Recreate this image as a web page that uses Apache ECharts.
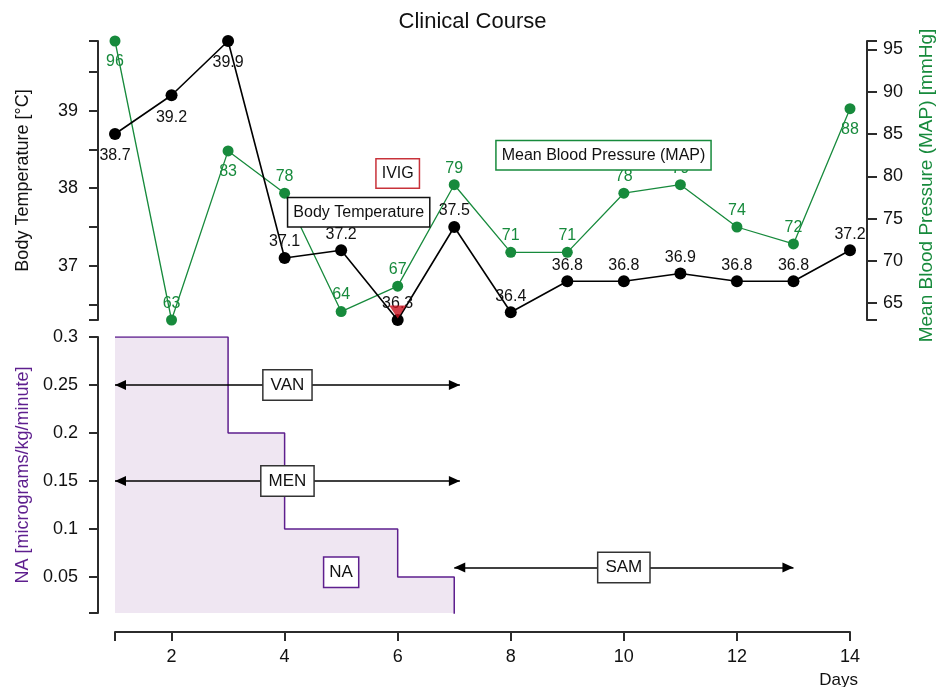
<!DOCTYPE html>
<html>
<head>
<meta charset="utf-8">
<title>Clinical Course</title>
<script src="https://cdn.jsdelivr.net/npm/echarts@6/dist/echarts.min.js"></script>
<style>
  html, body { margin: 0; padding: 0; background: #fff; }
  #chart { width: 945px; height: 687px; }
</style>
</head>
<body>
<div id="chart"></div>
<script>
// data
const days = [1, 2, 3, 4, 5, 6, 7, 8, 9, 10, 11, 12, 13, 14];
const bodyTemp = [38.7, 39.2, 39.9, 37.1, 37.2, 36.3, 37.5, 36.4, 36.8, 36.8, 36.9, 36.8, 36.8, 37.2];
const meanBP = [96, 63, 83, 78, 64, 67, 79, 71, 71, 78, 79, 74, 72, 88];
// noradrenaline dose, step changes
const naDays = [1, 3, 4, 6, 7];
const naRate = [0.3, 0.2, 0.1, 0.05, 0];
// drugs given over a period of days
const drugNames = ['VAN', 'MEN', 'SAM'];
const drugStart = [1, 1, 7];
const drugEnd = [7.1, 7.1, 13];
const drugLevel = [0.25, 0.15, 0.06];
const ivigDay = 6;
// tick labels
const tempLabels = [37, 38, 39];
const mapLabels = [65, 70, 75, 80, 85, 90, 95];
const naLabels = [0.05, 0.1, 0.15, 0.2, 0.25, 0.3];
const dayLabels = [2, 4, 6, 8, 10, 12, 14];

const GREEN = '#178a3c';
const PURPLE = '#5e1f8e';
const AXIS = '#2b2b2b';
const FONT = 'Liberation Sans, Arial, sans-serif';

let chart = echarts.init(document.getElementById('chart'));

function axisBase(extra) {
    return Object.assign({
        type: 'value',
        splitLine: { show: false },
        axisLine: { show: true, lineStyle: { color: AXIS, width: 2 } },
        axisTick: { show: true, length: 9, lineStyle: { color: AXIS, width: 2 } },
        axisLabel: { color: '#111', fontSize: 18, fontFamily: FONT, margin: 18 }
    }, extra);
}

const tempMin = Math.min.apply(null, bodyTemp), tempMax = Math.max.apply(null, bodyTemp);
const mapMin = Math.min.apply(null, meanBP), mapMax = Math.max.apply(null, meanBP);

let boxLabel = function (border, size) {
    return {
        show: true, position: 'inside', color: '#111', fontSize: size || 16, fontFamily: FONT,
        backgroundColor: '#fff', borderColor: border, borderWidth: 1.5, padding: [6, 5]
    };
};

let option = {
    animation: false,
    textStyle: { fontFamily: FONT },
    title: {
        text: 'Clinical Course', left: 'center', top: 6,
        textStyle: { fontSize: 22, fontWeight: 'normal', color: '#111', fontFamily: FONT }
    },
    grid: [
        { left: 115, right: 95, top: 41, height: 279, containLabel: false, outerBoundsMode: 'none' },
        { left: 115, right: 95, top: 337, height: 276, containLabel: false, outerBoundsMode: 'none' }
    ],
    xAxis: [
        axisBase({ gridIndex: 0, min: 1, max: 14, show: false }),
        axisBase({
            gridIndex: 1, min: 1, max: 14, offset: 19,
            axisTick: { show: true, length: 9, lineStyle: { color: AXIS, width: 2 }, customValues: [1].concat(dayLabels) },
            axisLabel: { color: '#111', fontSize: 18, fontFamily: FONT, margin: 16, customValues: dayLabels },
            name: 'Days', nameLocation: 'end', nameGap: 8,
            nameTextStyle: { color: '#111', fontSize: 17, fontFamily: FONT, align: 'right', verticalAlign: 'top', padding: [40, 0, 0, 0] }
        })
    ],
    yAxis: [
        axisBase({
            gridIndex: 0, position: 'left', offset: 17, min: tempMin, max: tempMax,
            axisTick: { show: true, length: 9, lineStyle: { color: AXIS, width: 2 },
                customValues: [tempMin, 36.5, 37, 37.5, 38, 38.5, 39, 39.5, tempMax] },
            axisLabel: { color: '#111', fontSize: 18, fontFamily: FONT, margin: 20, customValues: tempLabels },
            name: 'Body Temperature [°C]', nameLocation: 'middle', nameGap: 66, nameRotate: 90,
            nameTextStyle: { color: '#111', fontSize: 18, fontFamily: FONT }
        }),
        axisBase({
            gridIndex: 0, position: 'right', offset: 17, min: mapMin, max: mapMax,
            axisTick: { show: true, length: 10, lineStyle: { color: AXIS, width: 2 },
                customValues: [mapMin].concat(mapLabels, [mapMax]) },
            axisLabel: { color: '#111', fontSize: 18, fontFamily: FONT, margin: 16, customValues: mapLabels },
            name: 'Mean Blood Pressure (MAP) [mmHg]', nameLocation: 'middle', nameGap: 50, nameRotate: 90,
            nameTextStyle: { color: GREEN, fontSize: 19, fontFamily: FONT, padding: [0, 10, 0, 0] }
        }),
        axisBase({
            gridIndex: 1, position: 'left', offset: 17, min: 0.0125, max: 0.3,
            axisTick: { show: true, length: 9, lineStyle: { color: AXIS, width: 2 },
                customValues: [0.0125].concat(naLabels) },
            axisLabel: { color: '#111', fontSize: 18, fontFamily: FONT, margin: 20, customValues: naLabels },
            name: 'NA [micrograms/kg/minute]', nameLocation: 'middle', nameGap: 66, nameRotate: 90,
            nameTextStyle: { color: PURPLE, fontSize: 18, fontFamily: FONT }
        })
    ],
    series: [
        {
            name: 'NA', type: 'line', xAxisIndex: 1, yAxisIndex: 2,
            step: 'end', symbol: 'none',
            lineStyle: { color: PURPLE, width: 1.5 },
            areaStyle: { color: '#efe6f2', opacity: 1, origin: 'start' },
            data: naDays.map((d, i) => [d, naRate[i]]),
            markLine: {
                silent: true,
                symbol: ['triangle', 'triangle'], symbolSize: [10, 11],
                symbolOffset: [[0, 5.5], [0, 5.5]],
                lineStyle: { color: '#000', width: 1.5, type: 'solid' },
                label: {
                    show: true, position: 'middle', formatter: '{b}', distance: 0,
                    verticalAlign: 'middle', align: 'center',
                    color: '#111', fontSize: 17, fontFamily: FONT,
                    backgroundColor: '#fff', borderColor: '#333', borderWidth: 1.5, padding: [6, 7]
                },
                data: drugNames.map((n, i) => [
                    { name: n, coord: [drugStart[i], drugLevel[i]] },
                    { coord: [drugEnd[i], drugLevel[i]] }
                ])
            },
            markPoint: {
                symbol: 'rect', symbolSize: 0,
                label: boxLabel(PURPLE, 17),
                data: [{ name: 'NA', coord: [5, 0.055], value: 'NA' }]
            },
            z: 2
        },
        {
            name: 'MAP', type: 'line', xAxisIndex: 0, yAxisIndex: 1, clip: false,
            symbol: 'circle', symbolSize: 11,
            itemStyle: { color: GREEN },
            lineStyle: { color: GREEN, width: 1.3 },
            label: { show: true, color: GREEN, fontSize: 16, fontFamily: FONT },
            data: days.map((d, i) => {
                let below = (i === 0 || i === 2 || i === 13);
                return {
                    value: [d, meanBP[i]],
                    label: { position: below ? 'bottom' : 'top', distance: below ? 7 : 3 }
                };
            }),
            z: 3
        },
        {
            name: 'Body Temperature', type: 'line', xAxisIndex: 0, yAxisIndex: 0, clip: false,
            symbol: 'circle', symbolSize: 12,
            itemStyle: { color: '#000' },
            lineStyle: { color: '#000', width: 1.6 },
            label: { show: true, color: '#111', fontSize: 16, fontFamily: FONT },
            data: days.map((d, i) => ({
                value: [d, bodyTemp[i]],
                label: { position: i < 3 ? 'bottom' : 'top', distance: i < 3 ? 8 : 2 }
            })),
            markPoint: {
                symbol: 'rect', symbolSize: 0,
                data: [
                    { name: 'bt', coord: [5.31, 37.69], value: 'Body Temperature', label: boxLabel('#111') },
                    { name: 'ivig', coord: [ivigDay, 38.19], value: 'IVIG', label: boxLabel('#c8323a') }
                ]
            },
            z: 4
        },
        {
            name: 'MAP box', type: 'scatter', xAxisIndex: 0, yAxisIndex: 1,
            symbolSize: 0, data: [],
            markPoint: {
                symbol: 'rect', symbolSize: 0,
                data: [{ name: 'map', coord: [9.64, 82.5], value: 'Mean Blood Pressure (MAP)', label: boxLabel(GREEN) }]
            },
            z: 5
        },
        {
            name: 'IVIG', type: 'scatter', xAxisIndex: 0, yAxisIndex: 0,
            symbol: 'triangle', symbolRotate: 180, symbolSize: [17, 13], symbolOffset: [0, -8],
            itemStyle: { color: '#c8101e' },
            data: [[ivigDay, bodyTemp[ivigDay - 1]]],
            z: 6
        }
    ]
};

chart.setOption(option);
window.addEventListener('resize', function () {
    chart.resize();
});
</script>
</body>
</html>
